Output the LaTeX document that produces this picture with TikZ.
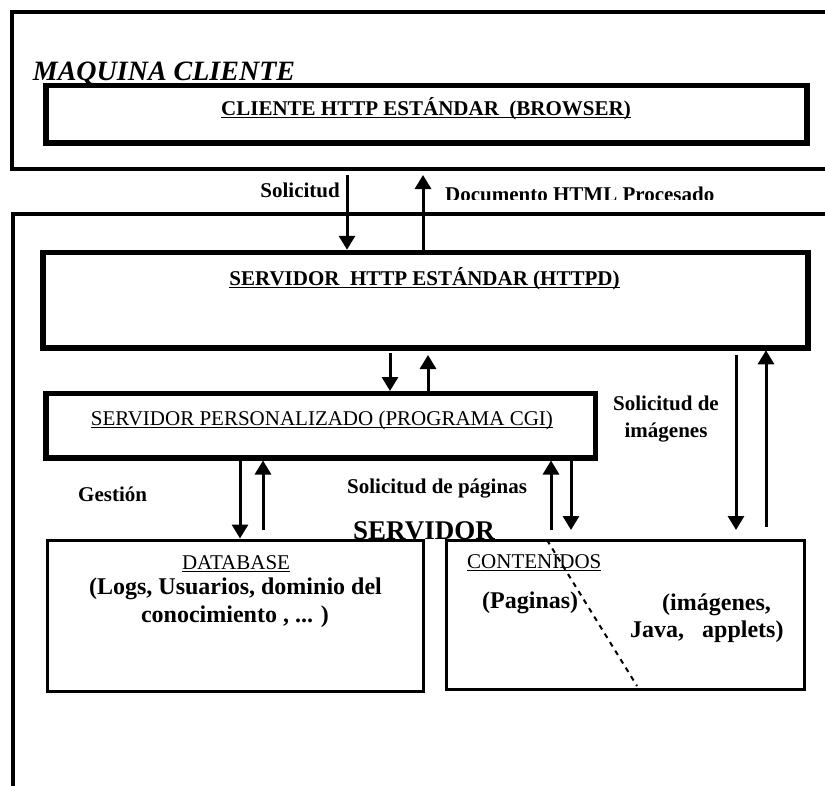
\documentclass[tikz,border=0pt]{standalone}
\usepackage{fontspec}
\setmainfont{Liberation Serif}
\usetikzlibrary{arrows.meta}
\newcommand\myul[2][1.3pt]{\setbox0\hbox{#2}\rlap{\rule[-3.4pt]{\wd0}{#1}}\box0}
\begin{document}
\begin{tikzpicture}[x=1pt,y=-1pt,line join=miter,
  frame/.style={draw, line width=4pt, inner sep=0pt, outer sep=0pt},
  thickbox/.style={draw, line width=5.5pt, inner sep=0pt, outer sep=0pt},
  thinbox/.style={draw, line width=3pt, inner sep=0pt, outer sep=0pt},
  arr/.style={line width=3pt, -{Triangle[width=16pt,length=14pt]}},
  bfa/.style={font=\fontsize{21}{25}\selectfont\bfseries, inner sep=0pt},
  rma/.style={font=\fontsize{21}{25}\selectfont, inner sep=0pt},
  bfb/.style={font=\fontsize{24}{28}\selectfont\bfseries, inner sep=0pt},
  dashline/.style={line width=2pt, dash pattern=on 5pt off 5pt},
]
\clip (0,0) rectangle (825,785);
\fill[white] (0,0) rectangle (825,785);

% texts
\node[font=\fontsize{28}{32}\selectfont\bfseries\itshape, inner sep=0pt, anchor=base] (maq) at (164,80) {MAQUINA CLIENTE};
\node[bfa, anchor=base] (tbrowser) at (426,115) {\myul[1.8pt]{CLIENTE HTTP ESTÁNDAR\ \ (BROWSER)}};
\node[bfa, anchor=base east] (tsol) at (340,197) {Solicitud};
\begin{scope}
  \clip (430,150) rectangle (825,199);
  \node[bfa, anchor=base west] (tdoc) at (445,201) {Documento HTML Procesado};
\end{scope}
\node[bfa, anchor=base] (thttpd) at (424.5,285) {\myul[1.8pt]{SERVIDOR\ \ HTTP ESTÁNDAR (HTTPD)}};
\node[rma, anchor=base] (tcgi) at (322,425) {\myul{SERVIDOR PERSONALIZADO (PROGRAMA CGI)}};
\node[bfa, anchor=base] (timg1) at (666,410) {Solicitud de};
\node[bfa, anchor=base] (timg2) at (666,437) {imágenes};
\node[bfa, anchor=base west] (tgest) at (78,501) {Gestión};
\node[bfa, anchor=base west] (tpag) at (347,493) {Solicitud de páginas};
\node[font=\fontsize{27}{31}\selectfont\bfseries, inner sep=0pt, anchor=base west] (tserv) at (353,539) {SERVIDOR};
\node[rma, anchor=base] (tdb) at (236,569) {\myul{DATABASE}};
\node[bfb, anchor=base] (tdb1) at (235.5,594) {(Logs, Usuarios, dominio del};
\node[bfb, anchor=base] (tdb2) at (235,622) {conocimiento , ... )};
\node[rma, anchor=base west] (tcont) at (467,568) {\myul{CONTENIDOS}};
\node[bfb, anchor=base west] (tpagi) at (482,608) {(Paginas)};
\node[bfb, anchor=base west] (timgs) at (662,610) {(imágenes,};
\node[bfb, anchor=base west] (tjava) at (630,637) {Java,\ \ \ applets)};

% boxes
\node[frame, minimum width=833.5pt, minimum height=156.5pt] (client) at (428.25,90.25) {};
\node[frame, minimum width=832pt, minimum height=586.5pt] (server) at (429,506.75) {};
\node[thickbox, minimum width=761pt, minimum height=57.5pt] (browser) at (426.5,114.25) {};
\node[thickbox, minimum width=765pt, minimum height=95.5pt] (httpd) at (425.5,300) {};
\node[thickbox, minimum width=549.5pt, minimum height=64.5pt] (cgi) at (320.75,425.75) {};
\node[thinbox, minimum width=376pt, minimum height=151.5pt] (db) at (235.5,615.75) {};
\node[thinbox, minimum width=358pt, minimum height=149.5pt] (cont) at (625.5,614.75) {};

% dashed divider
\coordinate (d1) at (547,540);
\coordinate (d2) at (637,686);
\draw[dashline] (d1) -- (d2);

% connectors
\coordinate (a1) at (347,175);
\draw[arr, shorten >=2.5pt] (a1) -- (a1 |- httpd.north);
\coordinate (a2) at (423,175);
\draw[arr] (a2 |- httpd.north) -- (a2);
\coordinate (a3) at (390,353);
\draw[arr, shorten >=2.5pt] (a3) -- (a3 |- cgi.north);
\coordinate (a4) at (428,355);
\draw[arr] (a4 |- cgi.north) -- (a4);
\coordinate (a5) at (240,461);
\draw[arr, shorten >=1.5pt] (a5 |- cgi.south) -- (a5 |- db.north);
\coordinate (a6) at (263,530);
\draw[arr, shorten >=2.5pt] (a6) -- (a6 |- cgi.south);
\coordinate (a7) at (551,530);
\draw[arr, shorten >=2.5pt] (a7) -- (a7 |- cgi.south);
\coordinate (a8) at (571,530);
\draw[arr] (a8 |- cgi.south) -- (a8);
\coordinate (a9) at (736,530);
\draw[arr, shorten <=7pt] (a9 |- httpd.south) -- (a9);
\coordinate (a10) at (766,527);
\draw[arr, shorten >=2.5pt] (a10) -- (a10 |- httpd.south);
\end{tikzpicture}
\end{document}
